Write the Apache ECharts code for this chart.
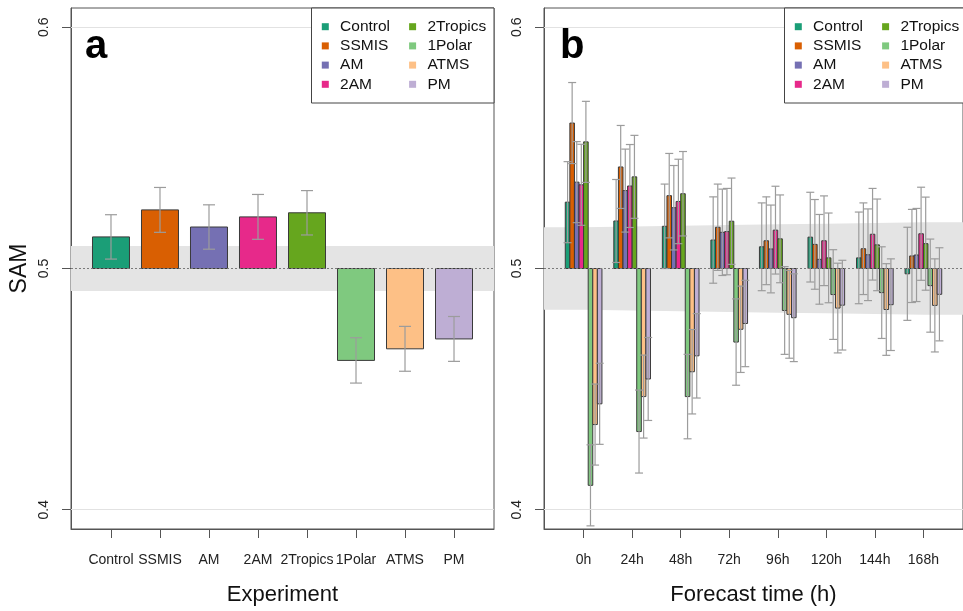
<!DOCTYPE html>
<html>
<head>
<meta charset="utf-8">
<script src="https://cdn.jsdelivr.net/npm/echarts@6/dist/echarts.min.js"></script>
<style>
  html, body { margin: 0; padding: 0; background: #fff; }
  #chart { width: 963px; height: 611px; }
</style>
</head>
<body>
<div id="chart"></div>
<script>
// Experiments (panel a categories and legend entries)
const experiments = ['Control', 'SSMIS', 'AM', '2AM', '2Tropics', '1Polar', 'ATMS', 'PM'];

// Panel a: SAM per experiment with error half-widths and the noise band half-width
const samMean = [0.5131, 0.5243, 0.5172, 0.5214, 0.5231, 0.4619, 0.4667, 0.4708];
const samErr  = [0.0092, 0.0093, 0.0092, 0.0093, 0.0092, 0.0094, 0.0093, 0.0093];
const samNoise = 0.0093;

// Panel b: SAM by forecast lead time for each experiment
const leadTimes = ['0h', '24h', '48h', '72h', '96h', '120h', '144h', '168h'];
const leadControl  = [0.5275, 0.5197, 0.5175, 0.5118, 0.5090, 0.5130, 0.5044, 0.4978];
const leadSSMIS    = [0.5603, 0.5421, 0.5302, 0.5171, 0.5115, 0.5100, 0.5082, 0.5052];
const leadAM       = [0.5358, 0.5323, 0.5252, 0.5150, 0.5081, 0.5038, 0.5057, 0.5056];
const lead2AM      = [0.5347, 0.5342, 0.5278, 0.5153, 0.5159, 0.5115, 0.5142, 0.5144];
const lead2Tropics = [0.5525, 0.5380, 0.5310, 0.5196, 0.5123, 0.5044, 0.5098, 0.5103];
const lead1Polar   = [0.4101, 0.4324, 0.4469, 0.4695, 0.4826, 0.4892, 0.4900, 0.4929];
const leadATMS     = [0.4353, 0.4469, 0.4572, 0.4748, 0.4810, 0.4836, 0.4830, 0.4847];
const leadPM       = [0.4439, 0.4542, 0.4638, 0.4772, 0.4796, 0.4848, 0.4850, 0.4893];
const leadErr   = [0.0168, 0.0172, 0.0175, 0.0179, 0.0182, 0.0186, 0.0190, 0.0193];
const leadNoise = [0.0171, 0.0174, 0.0177, 0.0180, 0.0183, 0.0186, 0.0189, 0.0192];

// Y axis tick values
const yTicks = [0.4, 0.5, 0.6];

const leadSeries = [leadControl, leadSSMIS, leadAM, lead2AM, lead2Tropics, lead1Polar, leadATMS, leadPM];
const barColors = ['#1B9E77', '#D95F02', '#7570B3', '#E7298A', '#66A61E', '#7FC97F', '#FDC086', '#BEAED4'];
const FONT = '"Liberation Sans", Arial, Helvetica, sans-serif';
const BASE = 0.5;
const X_MIN = -0.816, X_MAX = 7.816;
const BAR_A = 0.755;   // bar width in panel a (axis units)
const SLOT_B = 0.0944; // bar width in panel b (axis units)

function makeX(gi, cats, name) {
  const idx = cats.map((_, i) => i);
  return {
    type: 'value', gridIndex: gi, min: X_MIN, max: X_MAX,
    name: name, nameLocation: 'middle', nameGap: 55,
    nameTextStyle: { fontSize: 22, color: '#111', fontFamily: FONT },
    axisLine: { show: true, onZero: false, lineStyle: { color: '#555', width: 1 } },
    splitLine: { show: false },
    axisTick: { show: true, length: 9, customValues: idx, lineStyle: { color: '#555' } },
    axisLabel: {
      customValues: idx, margin: 24, fontSize: 14, color: '#222', fontFamily: FONT,
      formatter: v => cats[Math.round(v)]
    }
  };
}

function makeY(gi, name) {
  return {
    type: 'value', gridIndex: gi, min: 0.392, max: 0.608,
    name: name, nameLocation: 'middle', nameGap: 40,
    nameTextStyle: { fontSize: 23, color: '#111', fontFamily: FONT },
    axisLine: { show: true, onZero: false, lineStyle: { color: '#555', width: 1 } },
    splitLine: { show: false },
    axisTick: { show: true, length: 9, customValues: yTicks, lineStyle: { color: '#555' } },
    axisLabel: {
      customValues: yTicks, rotate: 90, margin: 20, fontSize: 14, color: '#222', fontFamily: FONT,
      formatter: v => v.toFixed(1)
    }
  };
}

const refLines = {
  silent: true, symbol: ['none', 'none'], label: { show: false }, animation: false,
  data: [
    { yAxis: 0.4, lineStyle: { color: '#e2e2e2', type: 'solid', width: 1 } },
    { yAxis: 0.6, lineStyle: { color: '#e2e2e2', type: 'solid', width: 1 } },
    { yAxis: BASE, lineStyle: { color: '#7a7a7a', type: [2, 2], width: 1 } }
  ]
};

// Panel a: flat noise band
const bandA = {
  type: 'custom', xAxisIndex: 0, yAxisIndex: 0, z: 1, silent: true,
  data: [[0, BASE]],
  renderItem: (params, api) => {
    const cs = params.coordSys;
    const top = api.coord([0, BASE + samNoise])[1];
    const bot = api.coord([0, BASE - samNoise])[1];
    return { type: 'rect', shape: { x: cs.x, y: top, width: cs.width, height: bot - top },
             style: { fill: '#e4e4e4' } };
  },
  markLine: refLines
};

// Panel b: noise band that widens with lead time
const bandB = {
  type: 'custom', xAxisIndex: 1, yAxisIndex: 1, z: 1, silent: true,
  data: [[0, BASE]],
  renderItem: (params, api) => {
    const cs = params.coordSys;
    const upper = [], lower = [];
    upper.push([cs.x, api.coord([0, BASE + leadNoise[0]])[1]]);
    lower.push([cs.x, api.coord([0, BASE - leadNoise[0]])[1]]);
    leadNoise.forEach((n, i) => {
      upper.push(api.coord([i, BASE + n]));
      lower.push(api.coord([i, BASE - n]));
    });
    const last = leadNoise[leadNoise.length - 1];
    upper.push([cs.x + cs.width, api.coord([0, BASE + last])[1]]);
    lower.push([cs.x + cs.width, api.coord([0, BASE - last])[1]]);
    return { type: 'polygon', shape: { points: upper.concat(lower.reverse()) },
             style: { fill: '#e4e4e4' } };
  },
  markLine: refLines
};

// Bar data: [x index, value, experiment index, error half-width]
const dataA = samMean.map((v, k) => [k, v, k, samErr[k]]);
const dataB = [];
leadSeries.forEach((arr, k) => arr.forEach((v, i) => dataB.push([i, v, k, leadErr[i]])));

function barRenderer(widthUnits, dodge) {
  return (params, api) => {
    const x = api.value(0), v = api.value(1), k = api.value(2);
    const w = api.size([widthUnits, 0])[0];
    const cx = api.coord([x, v])[0] + (dodge ? (k - 3.5) * w : 0);
    const yb = api.coord([x, BASE])[1];
    const yv = api.coord([x, v])[1];
    return {
      type: 'rect',
      shape: { x: cx - w / 2, y: Math.min(yb, yv), width: w, height: Math.abs(yv - yb) },
      style: { fill: barColors[k], stroke: '#3a3a3a', lineWidth: 1 }
    };
  };
}

function errRenderer(widthUnits, dodge, cap) {
  return (params, api) => {
    const x = api.value(0), v = api.value(1), k = api.value(2), e = api.value(3);
    const w = api.size([widthUnits, 0])[0];
    const cx = api.coord([x, v])[0] + (dodge ? (k - 3.5) * w : 0);
    const yHi = api.coord([x, v + e])[1];
    const yLo = api.coord([x, v - e])[1];
    const st = { stroke: '#9c9c9c', lineWidth: 1.2 };
    return {
      type: 'group',
      children: [
        { type: 'line', shape: { x1: cx, y1: yHi, x2: cx, y2: yLo }, style: st },
        { type: 'line', shape: { x1: cx - cap, y1: yHi, x2: cx + cap, y2: yHi }, style: st },
        { type: 'line', shape: { x1: cx - cap, y1: yLo, x2: cx + cap, y2: yLo }, style: st }
      ]
    };
  };
}

const series = [
  bandA, bandB,
  { type: 'custom', name: 'barsA', xAxisIndex: 0, yAxisIndex: 0, z: 3, data: dataA,
    encode: { x: 0, y: 1 }, renderItem: barRenderer(BAR_A, false) },
  { type: 'custom', name: 'errA', xAxisIndex: 0, yAxisIndex: 0, z: 4, data: dataA,
    encode: { x: 0, y: 1 }, renderItem: errRenderer(BAR_A, false, 6) },
  { type: 'custom', name: 'barsB', xAxisIndex: 1, yAxisIndex: 1, z: 3, data: dataB,
    encode: { x: 0, y: 1 }, renderItem: barRenderer(SLOT_B, true) },
  { type: 'custom', name: 'errB', xAxisIndex: 1, yAxisIndex: 1, z: 4, data: dataB,
    encode: { x: 0, y: 1 }, renderItem: errRenderer(SLOT_B, true, 4) }
];

// Legend boxes (two columns of four) and panel letters
function legendBox(x0) {
  const els = [{
    type: 'rect', z: 100, shape: { x: x0, y: 8, width: 182.5, height: 95 },
    style: { fill: '#fff', stroke: '#444', lineWidth: 1 }
  }];
  experiments.forEach((name, k) => {
    const col = Math.floor(k / 4), row = k % 4;
    const cy = 26.7 + row * 19.2;
    const sx = x0 + 13.8 + col * 87.3;
    els.push({ type: 'rect', z: 101, shape: { x: sx - 3.5, y: cy - 3.5, width: 7, height: 7 },
               style: { fill: barColors[k] } });
    els.push({ type: 'text', z: 101, x: sx + 14.8, y: cy,
               style: { text: name, fontSize: 15.5, fontFamily: FONT, fill: '#111',
                        align: 'left', verticalAlign: 'middle' } });
  });
  return els;
}

function panelLetter(x, txt) {
  return { type: 'text', z: 101, x: x, y: 47,
           style: { text: txt, fontSize: 40, fontWeight: 'bold', fontFamily: FONT, fill: '#000',
                    align: 'left', verticalAlign: 'middle' } };
}

const option = {
  animation: false,
  backgroundColor: '#fff',
  textStyle: { fontFamily: FONT },
  grid: [
    { left: 71, top: 8, width: 423, height: 526, show: true, borderColor: '#555', borderWidth: 1,
      backgroundColor: 'transparent', containLabel: false },
    { left: 544, top: 8, width: 423, height: 526, show: true, borderColor: '#555', borderWidth: 1,
      backgroundColor: 'transparent', containLabel: false }
  ],
  xAxis: [makeX(0, experiments, 'Experiment'), makeX(1, leadTimes, 'Forecast time (h)')],
  yAxis: [makeY(0, 'SAM'), makeY(1, '')],
  series: series,
  graphic: [].concat(legendBox(311.5), legendBox(784.5), [panelLetter(85, 'a'), panelLetter(560, 'b')])
};

const chart = echarts.init(document.getElementById('chart'), null, { renderer: 'canvas' });
chart.setOption(option);
</script>
</body>
</html>
